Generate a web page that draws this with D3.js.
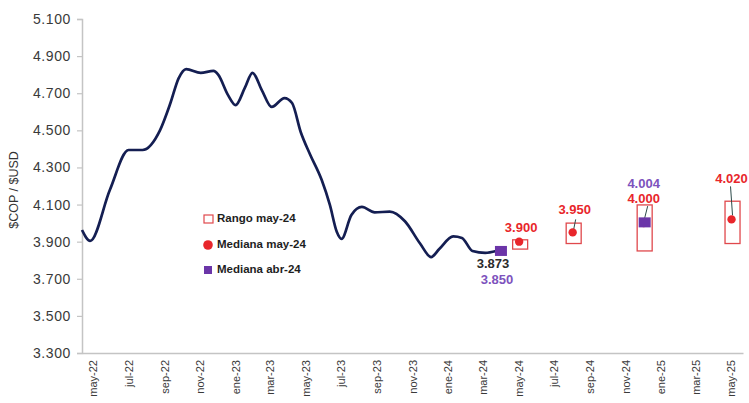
<!DOCTYPE html>
<html><head><meta charset="utf-8">
<script src="https://cdn.jsdelivr.net/npm/d3@7"></script>
<style>
html,body{margin:0;padding:0;background:#fff;}
svg{display:block;font-family:"Liberation Sans",Arial,sans-serif;}
</style></head>
<body><svg id="c" width="749" height="403"></svg>
<script>
// ---- data ----
const lineDates = ["2022-04-12","2022-04-26","2022-05-30","2022-07-01","2022-07-25","2022-08-24","2022-09-11","2022-09-25","2022-10-08","2022-11-02","2022-11-24","2022-12-02","2022-12-19","2023-01-01","2023-01-17","2023-01-30","2023-02-15","2023-03-04","2023-03-26","2023-04-08","2023-04-23","2023-05-09","2023-05-29","2023-06-12","2023-06-24","2023-07-02","2023-07-19","2023-08-06","2023-08-28","2023-09-23","2023-10-19","2023-11-14","2023-12-03","2023-12-17","2024-01-10","2024-01-25","2024-02-12","2024-03-05","2024-03-24"];
const lineValues = [3963,3904,4180,4394,4394,4500,4647,4780,4830,4810,4820,4800,4690,4636,4730,4810,4717,4626,4674,4647,4490,4370,4232,4098,3952,3915,4044,4087,4058,4062,4010,3890,3817,3860,3928,3920,3850,3840,3850];
const lastObserved = 3873;

const forecastDates = ["2024-05-04","2024-08-04","2024-12-04","2025-05-04"];
const rangeLow  = [3860,3890,3850,3890];
const rangeHigh = [3910,4000,4098,4118];
const medianMay24 = [3900,3950,4000,4020];

const medianAbrDates = ["2024-04-01","2024-12-04"];
const medianAbr24 = [3850,4004];

const yTicks = [3300,3500,3700,3900,4100,4300,4500,4700,4900,5100];
const tickDates = ["2022-05-01","2022-07-01","2022-09-01","2022-11-01","2023-01-01","2023-03-01","2023-05-01","2023-07-01","2023-09-01","2023-11-01","2024-01-01","2024-03-01","2024-05-01","2024-07-01","2024-09-01","2024-11-01","2025-01-01","2025-03-01","2025-05-01"];
const tickLabels = ["may-22","jul-22","sep-22","nov-22","ene-23","mar-23","may-23","jul-23","sep-23","nov-23","ene-24","mar-24","may-24","jul-24","sep-24","nov-24","ene-25","mar-25","may-25"];
const legendLabels = ["Rango may-24","Mediana may-24","Mediana abr-24"];
const yTitle = "$COP / $USD";

// ---- setup ----
const parse = d3.utcParse("%Y-%m-%d");
const loc = d3.formatLocale({decimal:",",thousands:".",grouping:[3],currency:["$",""]});
const fmt = loc.format(",.0f");
const svg = d3.select("#c");
const RED = "#e8262b", PURPLE = "#6b35a8", PURPLE_TXT = "#7d52bd", NAVY = "#141e52", AX = "#c4c4c4";

const x = d3.scaleUtc().domain([parse("2022-04-12"), parse("2025-05-22")]).range([82, 743]);
const y = d3.scaleLinear().domain([3300, 5100]).range([353, 19]);

// y axis
const yAxis = svg.append("g").attr("transform","translate(82,0)")
  .call(d3.axisLeft(y).tickValues(yTicks).tickFormat(fmt).tickSize(5).tickPadding(6));
yAxis.select(".domain").attr("stroke",AX).attr("stroke-width",1.5);
yAxis.selectAll(".tick line").attr("stroke",AX).attr("stroke-width",1.2);
yAxis.selectAll(".tick text").attr("fill","#3a3a3a").style("font-size","14px")
  .style("letter-spacing","0.6px").style("font-family","'Liberation Sans',Arial,sans-serif");

// x axis
const xAxis = svg.append("g").attr("transform","translate(0,353)")
  .call(d3.axisBottom(x).tickValues(tickDates.map(parse)).tickFormat((d,i)=>tickLabels[i]).tickSize(0).tickPadding(0));
xAxis.select(".domain").attr("stroke",AX).attr("stroke-width",1.5);
xAxis.selectAll(".tick text").attr("fill","#3a3a3a").style("font-size","11px")
  .style("font-family","'Liberation Sans',Arial,sans-serif")
  .attr("transform","rotate(-90)").attr("text-anchor","end").attr("dy","0.35em").attr("x",-7).attr("y",0);

// y title
svg.append("text").attr("transform","translate(15,190) rotate(-90)").attr("text-anchor","middle")
  .attr("dominant-baseline","middle").attr("fill","#333").style("font-size","12.5px").text(yTitle);

// line
const pts = lineDates.map((d,i)=>({d:parse(d), v:lineValues[i]}));
svg.append("path").datum(pts)
  .attr("d", d3.line().x(p=>x(p.d)).y(p=>y(p.v)).curve(d3.curveMonotoneX))
  .attr("fill","none").attr("stroke",NAVY).attr("stroke-width",2.7).attr("stroke-linejoin","round");

// range boxes
const fc = forecastDates.map((d,i)=>({d:parse(d), lo:rangeLow[i], hi:rangeHigh[i], m:medianMay24[i]}));
svg.selectAll("rect.rng").data(fc).enter().append("rect").attr("class","rng")
  .attr("x",f=>x(f.d)-7.5).attr("width",15)
  .attr("y",f=>y(f.hi)).attr("height",f=>y(f.lo)-y(f.hi))
  .attr("fill","#fff").attr("fill-opacity",0.6).attr("stroke","#e0484c").attr("stroke-width",1.3);

// leader lines
const leaders = [[1,-3,-13,2],[2,-5,-17,3],[3,-4,-33,-2]];
leaders.forEach(([i,dy0,dy1,dx1])=>{
  const f = fc[i];
  svg.append("line").attr("x1",x(f.d)).attr("y1",y(f.m)+dy0).attr("x2",x(f.d)+dx1).attr("y2",y(f.m)+dy1)
    .attr("stroke","#2c4a4a").attr("stroke-width",1);
});

// median may-24 dots
svg.selectAll("circle.med").data(fc).enter().append("circle").attr("class","med")
  .attr("cx",f=>x(f.d)-1).attr("cy",f=>y(f.m)).attr("r",4.2).attr("fill",RED);

// median abr-24 squares
const ab = medianAbrDates.map((d,i)=>({d:parse(d), v:medianAbr24[i]}));
svg.selectAll("rect.abr").data(ab).enter().append("rect").attr("class","abr")
  .attr("x",a=>x(a.d)-6).attr("y",a=>y(a.v)-5).attr("width",12).attr("height",10).attr("fill",PURPLE);

// data labels
const lbl = (tx,ty,t,c)=>svg.append("text").attr("x",tx).attr("y",ty).attr("text-anchor","middle")
  .attr("dominant-baseline","middle").attr("fill",c).style("font-size","13px").style("font-weight","bold").text(t);
lbl(x(fc[0].d)+1, y(fc[0].m)-13, fmt(fc[0].m), RED);
lbl(x(fc[1].d)+1, y(fc[1].m)-22, fmt(fc[1].m), RED);
lbl(x(fc[2].d)-1, y(fc[2].m)-24, fmt(fc[2].m), RED);
lbl(x(ab[1].d)-1, y(ab[1].v)-38, fmt(ab[1].v), PURPLE_TXT);
lbl(x(fc[3].d)-1, y(fc[3].m)-40, fmt(fc[3].m), RED);
lbl(x(ab[0].d)-8, y(ab[0].v)+14, fmt(lastObserved), "#2b2b2b");
lbl(x(ab[0].d)-4, y(ab[0].v)+30, fmt(ab[0].v), PURPLE_TXT);

// legend
const lg = svg.append("g");
const ly = [219,245,270];
lg.append("rect").attr("x",204).attr("y",ly[0]-4).attr("width",9).attr("height",8).attr("fill","#fff").attr("stroke","#e0484c").attr("stroke-width",1.2);
lg.append("circle").attr("cx",208).attr("cy",ly[1]).attr("r",4.8).attr("fill",RED);
lg.append("rect").attr("x",204).attr("y",ly[2]-4).attr("width",8).attr("height",8).attr("fill",PURPLE);
legendLabels.forEach((t,i)=>lg.append("text").attr("x",217).attr("y",ly[i]).attr("dominant-baseline","middle")
  .attr("fill","#1e1e1e").style("font-size","11.5px").style("font-weight","bold").text(t));
</script></body></html>
